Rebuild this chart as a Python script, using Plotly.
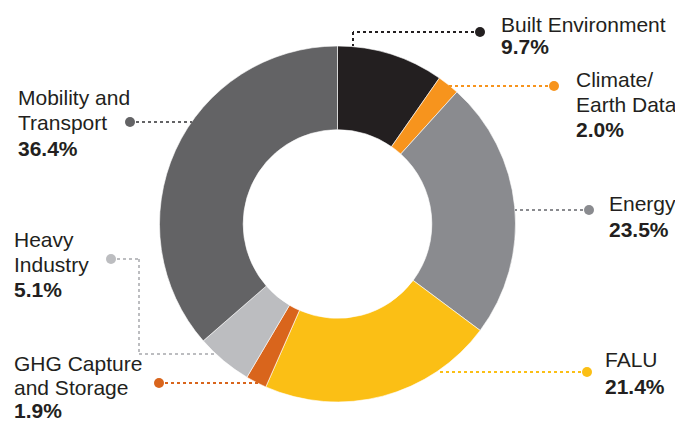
import plotly.graph_objects as go

# ---- data ----
sectors = ["Built Environment", "Climate/ Earth Data", "Energy", "FALU",
           "GHG Capture and Storage", "Heavy Industry", "Mobility and Transport"]
shares = [9.7, 2.0, 23.5, 21.4, 1.9, 5.1, 36.4]
colors = ["#231f20", "#f7941d", "#8a8b8f", "#fbbf15", "#d9651c", "#bcbdc0", "#636365"]

# label text lines (name lines + bold percent)
label_lines = [
    ["Built Environment"],
    ["Climate/", "Earth Data"],
    ["Energy"],
    ["FALU"],
    ["GHG Capture", "and Storage"],
    ["Heavy", "Industry"],
    ["Mobility and", "Transport"],
]

W, H = 675, 421

def px(x):
    return x / W

def py(y):
    return 1 - y / H

# layout of callouts (pixel positions): text left x, line centre ys, leader path, dot
callouts = [
    dict(tx=499, ys=[25, 46], path=[(480, 32), (353, 32), (353, 46)]),
    dict(tx=574, ys=[80, 105, 130], path=[(554, 86), (448, 86)]),
    dict(tx=607, ys=[203, 229], path=[(589, 210), (515, 210)]),
    dict(tx=603, ys=[359.5, 386], path=[(587, 372), (437, 372)]),
    dict(tx=12, ys=[363, 387.5, 410.5], path=[(159, 383), (263, 383)]),
    dict(tx=12, ys=[239.5, 264.5, 289.5], path=[(111, 259), (139, 259), (139, 354), (217, 354)]),
    dict(tx=16, ys=[97, 122.5, 148], path=[(130, 122), (192, 122)]),
]

cx, cy, R = 337.5, 224, 178

fig = go.Figure(go.Pie(
    labels=sectors,
    values=shares,
    marker=dict(colors=colors, line=dict(color="white", width=0.6)),
    hole=0.53,
    sort=False,
    direction="clockwise",
    rotation=0,
    textinfo="none",
    hoverinfo="none",
    showlegend=False,
    domain=dict(x=[px(cx - R), px(cx + R)], y=[py(cy + R), py(cy - R)]),
))

annotations = []
shapes = []
font_family = "Liberation Sans, Arial, sans-serif"
for lines, share, col, c in zip(label_lines, shares, colors, callouts):
    texts = lines + ["<b>%.1f%%</b>" % share]
    for t, yy in zip(texts, c["ys"]):
        annotations.append(dict(
            x=px(c["tx"]), y=py(yy), xref="paper", yref="paper",
            xanchor="left", yanchor="middle", showarrow=False,
            text=t, font=dict(family=font_family, size=21, color="#231f20"),
        ))
    pts = c["path"]
    for (x0, y0), (x1, y1) in zip(pts[:-1], pts[1:]):
        shapes.append(dict(
            type="line", xref="paper", yref="paper",
            x0=px(x0), y0=py(y0), x1=px(x1), y1=py(y1),
            line=dict(color=col, width=2, dash="dot"),
        ))
    dx, dy = pts[0]
    r = 5
    shapes.append(dict(
        type="circle", xref="paper", yref="paper",
        x0=px(dx - r), x1=px(dx + r), y0=py(dy + r), y1=py(dy - r),
        fillcolor=col, line=dict(width=0),
    ))

fig.update_layout(
    width=W, height=H,
    margin=dict(l=0, r=0, t=0, b=0),
    paper_bgcolor="white", plot_bgcolor="white",
    annotations=annotations, shapes=shapes,
)

fig.write_html("out.html")
